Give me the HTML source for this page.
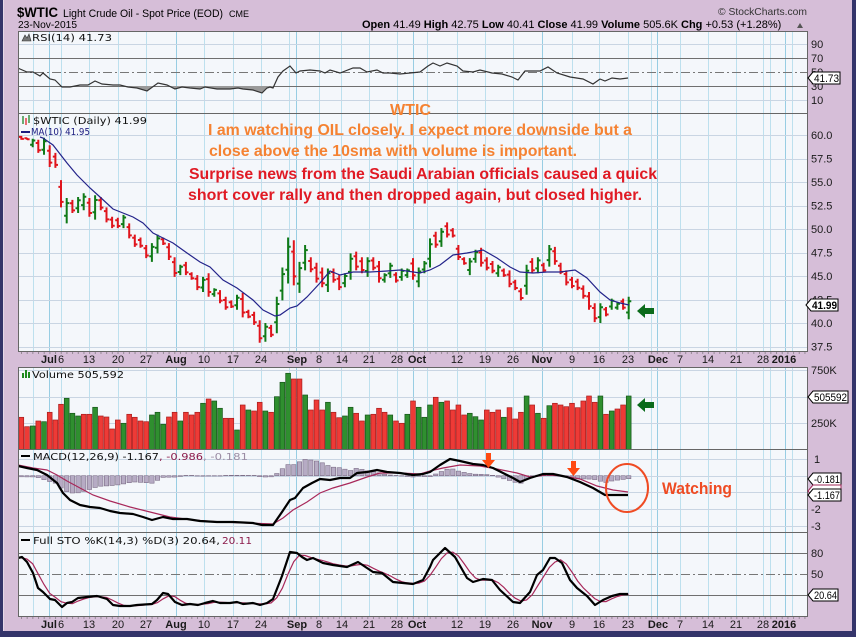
<!DOCTYPE html>
<html><head><meta charset="utf-8"><title>WTIC chart</title>
<style>
html,body{margin:0;padding:0;background:#d6bed8;overflow:hidden}
svg{display:block}
text{font-family:"Liberation Sans",Arial,sans-serif}
.lg{font-family:"DejaVu Sans","Liberation Sans",sans-serif;font-size:10px;fill:#111}
.ax{font-size:11px;fill:#1a1a1a}
.dt{font-size:11px;fill:#1a1a1a;text-anchor:middle}
.dtb{font-size:11px;fill:#1a1a1a;text-anchor:middle;font-weight:bold}
.an{font-weight:bold;font-size:16px}
.bx{font-size:11px;fill:#000}
</style></head><body>
<svg id="c" width="856" height="637" viewBox="0 0 856 637" xmlns="http://www.w3.org/2000/svg">
<defs>
<clipPath id="cR"><rect x="18" y="31" width="789" height="82"/></clipPath>
<clipPath id="cRlow"><rect x="18" y="86" width="789" height="27"/></clipPath>
<clipPath id="cP"><rect x="18" y="113" width="789" height="238"/></clipPath>
<clipPath id="cV"><rect x="18" y="367" width="789" height="82"/></clipPath>
<clipPath id="cM"><rect x="18" y="449" width="789" height="83"/></clipPath>
<clipPath id="cS"><rect x="18" y="532" width="789" height="84"/></clipPath>
</defs>
<rect width="856" height="637" fill="#d6bed8"/>
<rect x="0" y="0" width="3" height="637" fill="#34346a"/>
<rect x="3" y="0" width="1" height="631" fill="#e6d8e8"/>
<rect x="852" y="0" width="4" height="637" fill="#34346a"/>
<rect x="0" y="631" width="856" height="6" fill="#34346a"/>

<rect x="18" y="31" width="789" height="82" fill="#f4f7fb"/>
<rect x="18" y="113" width="789" height="238" fill="#f4f7fb"/>
<rect x="18" y="367" width="789" height="82" fill="#f4f7fb"/>
<rect x="18" y="449" width="789" height="83" fill="#f4f7fb"/>
<rect x="18" y="532" width="789" height="84" fill="#f4f7fb"/>

<g id="grid"></g>

<g stroke="#6f6f6f" stroke-width="1">
<line x1="18" x2="807" y1="58.5" y2="58.5"/>
<line x1="18" x2="807" y1="86.5" y2="86.5"/>
<line x1="18" x2="807" y1="553.5" y2="553.5"/>
<line x1="18" x2="807" y1="595.5" y2="595.5"/>
</g>
<g stroke="#777" stroke-width="1" stroke-dasharray="9,3,2,3">
<line x1="18" x2="807" y1="72.5" y2="72.5"/>
<line x1="18" x2="807" y1="574.5" y2="574.5"/>
</g>

<g id="data"></g>

<g fill="none" stroke="#666" stroke-width="1">
<rect x="18.5" y="31.5" width="789" height="82"/>
<rect x="18.5" y="113.5" width="789" height="238"/>
<rect x="18.5" y="367.5" width="789" height="82"/>
<rect x="18.5" y="449.5" width="789" height="83"/>
<rect x="18.5" y="532.5" width="789" height="84"/>
</g>
<g stroke="#555" stroke-width="1" stroke-dasharray="1,4.677">
<line x1="21" x2="807" y1="353" y2="353"/>
<line x1="21" x2="807" y1="618" y2="618"/>
</g>

<text x="17" y="17" font-size="14" font-weight="bold" textLength="41" lengthAdjust="spacingAndGlyphs" fill="#000">$WTIC</text>
<text x="63" y="17" font-size="11" textLength="160" lengthAdjust="spacingAndGlyphs" fill="#000">Light Crude Oil - Spot Price (EOD)</text>
<text x="229" y="17" font-size="9" textLength="20" lengthAdjust="spacingAndGlyphs" fill="#000">CME</text>
<text x="18" y="28" font-size="10.5" textLength="59" lengthAdjust="spacingAndGlyphs" fill="#000">23-Nov-2015</text>
<text x="718" y="15" font-size="10.5" textLength="89" lengthAdjust="spacingAndGlyphs" fill="#333">© StockCharts.com</text>
<text x="362" y="28" font-size="11" fill="#000"><tspan font-weight="bold">Open</tspan> 41.49 <tspan font-weight="bold">High</tspan> 42.75 <tspan font-weight="bold">Low</tspan> 40.41 <tspan font-weight="bold">Close</tspan> 41.99 <tspan font-weight="bold">Volume</tspan> 505.6K <tspan font-weight="bold">Chg</tspan> +0.53 (+1.28%)</text>
<path d="M797 28L800 23L803 28Z" fill="#555"/>

<g class="ax">
<text x="811" y="48">90</text>
<text x="811" y="62">70</text>
<text x="811" y="76">50</text>
<text x="811" y="90">30</text>
<text x="811" y="104">10</text>
<text x="811" y="139">60.0</text>
<text x="811" y="162.5">57.5</text>
<text x="811" y="186">55.0</text>
<text x="811" y="209.5">52.5</text>
<text x="811" y="233">50.0</text>
<text x="811" y="256.5">47.5</text>
<text x="811" y="280">45.0</text>
<text x="811" y="303.5">42.5</text>
<text x="811" y="327">40.0</text>
<text x="811" y="350.5">37.5</text>
<text x="811" y="374">750K</text>
<text x="811" y="427">250K</text>
<text x="814" y="463">1</text>
<text x="811" y="513">-2</text>
<text x="811" y="530">-3</text>
<text x="811" y="557">80</text>
<text x="811" y="578">50</text>
</g>

<g>
<text class="dtb" x="49" y="363">Jul</text><text class="dt" x="61" y="363">6</text>
<text class="dt" x="89" y="363">13</text><text class="dt" x="118" y="363">20</text><text class="dt" x="146" y="363">27</text>
<text class="dtb" x="176" y="363">Aug</text><text class="dt" x="204" y="363">10</text><text class="dt" x="233" y="363">17</text><text class="dt" x="261" y="363">24</text>
<text class="dtb" x="297" y="363">Sep</text><text class="dt" x="319" y="363">8</text><text class="dt" x="342" y="363">14</text><text class="dt" x="369" y="363">21</text><text class="dt" x="397" y="363">28</text>
<text class="dtb" x="417" y="363">Oct</text><text class="dt" x="457" y="363">12</text><text class="dt" x="485" y="363">19</text><text class="dt" x="513" y="363">26</text>
<text class="dtb" x="542" y="363">Nov</text><text class="dt" x="572" y="363">9</text><text class="dt" x="599" y="363">16</text><text class="dt" x="628" y="363">23</text>
<text class="dtb" x="658" y="363">Dec</text><text class="dt" x="680" y="363">7</text><text class="dt" x="708" y="363">14</text><text class="dt" x="736" y="363">21</text><text class="dt" x="763" y="363">28</text>
<text class="dtb" x="784" y="363">2016</text>
</g>
<g>
<text class="dtb" x="49" y="628">Jul</text><text class="dt" x="61" y="628">6</text>
<text class="dt" x="89" y="628">13</text><text class="dt" x="118" y="628">20</text><text class="dt" x="146" y="628">27</text>
<text class="dtb" x="176" y="628">Aug</text><text class="dt" x="204" y="628">10</text><text class="dt" x="233" y="628">17</text><text class="dt" x="261" y="628">24</text>
<text class="dtb" x="297" y="628">Sep</text><text class="dt" x="319" y="628">8</text><text class="dt" x="342" y="628">14</text><text class="dt" x="369" y="628">21</text><text class="dt" x="397" y="628">28</text>
<text class="dtb" x="417" y="628">Oct</text><text class="dt" x="457" y="628">12</text><text class="dt" x="485" y="628">19</text><text class="dt" x="513" y="628">26</text>
<text class="dtb" x="542" y="628">Nov</text><text class="dt" x="572" y="628">9</text><text class="dt" x="599" y="628">16</text><text class="dt" x="628" y="628">23</text>
<text class="dtb" x="658" y="628">Dec</text><text class="dt" x="680" y="628">7</text><text class="dt" x="708" y="628">14</text><text class="dt" x="736" y="628">21</text><text class="dt" x="763" y="628">28</text>
<text class="dtb" x="784" y="628">2016</text>
</g>

<path d="M22 41L25 35L27 38L29 34L31 41Z" fill="#777" stroke="#333" stroke-width="0.6"/>
<text class="lg" x="32" y="41" textLength="80" lengthAdjust="spacingAndGlyphs">RSI(14) 41.73</text>
<g stroke-width="1.2"><line x1="23" y1="116" x2="23" y2="124" stroke="#0f7a17"/><line x1="26" y1="118" x2="26" y2="125" stroke="#e0141c"/><line x1="29" y1="115" x2="29" y2="123" stroke="#0f7a17"/></g>
<text class="lg" x="33" y="124" textLength="114" lengthAdjust="spacingAndGlyphs">$WTIC (Daily) 41.99</text>
<rect x="21" y="131" width="9" height="2" fill="#1c1c80"/>
<text class="lg" x="31" y="135" textLength="59" lengthAdjust="spacingAndGlyphs" style="fill:#1c1c80">MA(10) 41.95</text>
<g fill="#1e8a1e"><rect x="22" y="373" width="2" height="5"/><rect x="25" y="370" width="2" height="8"/><rect x="28" y="372" width="2" height="6"/></g>
<text class="lg" x="32" y="378" textLength="92" lengthAdjust="spacingAndGlyphs">Volume 505,592</text>
<rect x="21" y="455" width="9" height="2" fill="#000"/>
<text class="lg" x="33" y="460" textLength="126" lengthAdjust="spacingAndGlyphs">MACD(12,26,9) -1.167</text>
<text class="lg" x="159" y="460" textLength="44" lengthAdjust="spacingAndGlyphs" style="fill:#8b1a4a">, -0.986</text>
<text class="lg" x="203" y="460" textLength="45" lengthAdjust="spacingAndGlyphs" style="fill:#9a8ca4">, -0.181</text>
<rect x="21" y="539" width="9" height="2" fill="#000"/>
<text class="lg" x="33" y="544" textLength="187" lengthAdjust="spacingAndGlyphs">Full STO %K(14,3) %D(3) 20.64,</text>
<text class="lg" x="222" y="544" textLength="30" lengthAdjust="spacingAndGlyphs" style="fill:#8b1a4a">20.11</text>

<text class="an" x="390" y="115" fill="#f58232" textLength="41" lengthAdjust="spacingAndGlyphs">WTIC</text>
<text class="an" x="208" y="135" fill="#f58232" textLength="424" lengthAdjust="spacingAndGlyphs">I am watching OIL closely. I expect more downside but a</text>
<text class="an" x="209" y="156" fill="#f58232" textLength="368" lengthAdjust="spacingAndGlyphs">close above the 10sma with volume is important.</text>
<text class="an" x="189" y="179" fill="#e01a24" textLength="468" lengthAdjust="spacingAndGlyphs">Surprise news from the Saudi Arabian officials caused a quick</text>
<text class="an" x="188" y="200" fill="#e01a24" textLength="454" lengthAdjust="spacingAndGlyphs">short cover rally and then dropped again, but closed higher.</text>

<path d="M637 311L645 304V308H654V314H645V318Z" fill="#0b6b1b"/>
<path d="M637 405L645 398V402H654V408H645V412Z" fill="#0b6b1b"/>
<path d="M486 453H491V460H495L488.5 468L482 460H486Z" fill="#ff4a12"/>
<path d="M571 461H576V468H580L573.5 476L567 468H571Z" fill="#ff4a12"/>
<ellipse cx="627" cy="488" rx="21" ry="24" fill="none" stroke="#ef4b23" stroke-width="2"/>
<text x="662" y="494" font-size="17" font-weight="bold" fill="#ef4b23" textLength="70" lengthAdjust="spacingAndGlyphs">Watching</text>

<g stroke="#000" stroke-width="1" fill="#fff">
<path d="M808 78L813 72H840V84H813Z"/>
<path d="M806 305L811 299H838V311H811Z"/>
<path d="M808 397L813 391H848V403H813Z"/>
<path d="M808 479L813 473H841V485H813Z"/>
<path d="M808 491L813 485H841V497H813Z" stroke="#a0285a"/>
<path d="M808 495L813 489H841V501H813Z"/>
<path d="M808 595L813 589H838V601H813Z"/>
</g>
<text class="bx" x="814" y="82" textLength="25" lengthAdjust="spacingAndGlyphs">41.73</text>
<text class="bx" x="812" y="309" font-weight="bold" textLength="25" lengthAdjust="spacingAndGlyphs">41.99</text>
<text class="bx" x="814" y="401" textLength="33" lengthAdjust="spacingAndGlyphs">505592</text>
<text class="bx" x="814" y="483" textLength="26" lengthAdjust="spacingAndGlyphs">-0.181</text>
<text class="bx" x="814" y="499" textLength="26" lengthAdjust="spacingAndGlyphs">-1.167</text>
<text class="bx" x="814" y="599" textLength="23" lengthAdjust="spacingAndGlyphs">20.64</text>
</svg>
<script>
(function(){
var NS='http://www.w3.org/2000/svg';
function el(t,a,p){var e=document.createElementNS(NS,t);for(var k in a)e.setAttribute(k,a[k]);p.appendChild(e);return e;}
var G=document.getElementById('grid'),D=document.getElementById('data');
var panels=[[31,113],[113,351],[367,449],[449,532],[532,616]];
var vx=[33,49,61,89,118,146,176,204,233,261,289,296,319,341,369,397,413,427,457,485,513,542,572,599,628,651,657,680,708,736,763,770,785,792];
var mx=[49,176,296,413,542,657,785];
panels.forEach(function(p){vx.forEach(function(x){el('line',{x1:x+.5,x2:x+.5,y1:p[0],y2:p[1],stroke:mx.indexOf(x)>=0?'#98cde3':'#bde0ee','stroke-width':1},G);});});
var hy=[44,100];
for(var v=37.5;v<=60;v+=2.5)hy.push(135+(60-v)*9.4);
hy=hy.concat([370,396.5,423,459,475.7,492.4,509,525.8]);
hy.forEach(function(y){el('line',{x1:18,x2:807,y1:Math.round(y)+.5,y2:Math.round(y)+.5,stroke:'#c9d5e3','stroke-width':1},G);});

function pts(a){var s='';for(var i=0;i<a.length;i+=2)s+=a[i]+','+a[i+1]+' ';return s;}
function ip(a,x){if(x<=a[0])return a[1];for(var i=2;i<a.length;i+=2){if(x<=a[i]){var x0=a[i-2],y0=a[i-1],x1=a[i],y1=a[i+1];return y0+(y1-y0)*(x-x0)/(x1-x0);}}return a[a.length-1];}
function bx(j){return 21.3+5.677*j;}

var RSI=[18,68,20,69,27,72,33,72,40,76,43,73,50,79,55,80,62,87,70,87,80,85,88,85,95,81,102,84,113,85,120,85,128,87,137,88,147,91,158,83,167,85,175,89,182,87,190,88,200,89,205,87,217,89,230,89,238,88,243,89,253,90,262,93,267,88,270,87,273,88,278,77,283,71,290,66,296,73,300,71,310,70,320,71,325,73,330,70,340,73,353,68,360,68,367,72,377,70,383,73,390,73,400,74,410,73,420,72,428,66,433,63,440,66,447,63,457,66,463,71,473,72,480,70,492,73,502,74,512,77,518,80,525,71,540,71,548,67,557,73,570,77,583,79,593,84,600,79,605,81,612,78,620,79,628,78];
var gR=el('g',{'clip-path':'url(#cR)'},D);
el('polygon',{points:'18,86 '+pts(RSI)+'628,86',fill:'#9a9a9a','clip-path':'url(#cRlow)'},gR);
el('polyline',{points:pts(RSI),fill:'none',stroke:'#333','stroke-width':1.2},gR);

var P=[['R',59.9,59.5],['R',59.7,59.5],['G',59.6,58.7],['R',59.5,58.1],['G',59.7,57.9],['R',58.9,56.6],['R',58.1,56.5],['R',55.2,52.3],['G',53.3,50.6],['R',53.1,51.7],['G',53.4,51.7],['G',53.8,52.0],['R',53.3,51.3],['G',53.6,51.0],['R',53.4,52.0],['R',52.3,50.7],['R',51.3,50.1],['R',51.2,50.1],['G',51.5,50.1],['R',50.6,49.0],['R',49.4,48.1],['R',49.1,48.0],['R',48.3,46.9],['G',48.5,46.5],['G',49.4,47.4],['R',49.1,48.3],['R',48.5,46.7],['R',47.0,44.9],['G',46.2,45.1],['R',46.5,45.1],['R',45.4,44.6],['R',45.1,43.5],['G',44.9,43.3],['R',45.3,42.8],['G',43.7,42.8],['R',43.5,42.1],['R',42.8,41.4],['R',42.4,41.6],['G',43.0,41.4],['R',43.2,40.6],['R',41.4,40.5],['R',41.2,39.8],['R',40.3,37.9],['G',40.0,38.0],['R',39.8,38.5],['G',42.8,38.9],['G',45.9,42.4],['G',49.1,44.2],['R',48.8,44.0],['G',46.5,43.2],['G',48.3,45.6],['R',47.0,45.4],['R',46.4,44.3],['R',45.9,43.8],['G',45.8,43.3],['R',45.8,44.3],['R',45.1,43.5],['G',45.3,43.8],['G',47.4,44.6],['R',47.6,45.6],['R',47.0,45.3],['G',47.0,44.9],['R',47.0,45.6],['R',46.6,44.3],['G',45.3,44.3],['G',46.4,44.8],['R',45.4,44.3],['G',45.8,44.5],['G',45.8,44.8],['R',46.9,44.6],['G',45.9,43.8],['G',46.6,45.3],['G',49.0,45.9],['R',49.7,48.0],['G',50.1,48.1],['R',50.7,49.1],['R',50.1,49.1],['R',48.3,46.7],['R',47.0,46.2],['G',46.9,45.1],['G',47.8,46.4],['R',48.0,46.0],['R',47.0,45.6],['R',46.6,45.3],['G',46.2,44.9],['R',45.8,44.9],['R',45.6,43.8],['R',44.6,43.5],['R',43.7,42.4],['G',46.2,43.0],['R',46.9,45.3],['G',47.0,45.3],['R',46.4,45.4],['G',48.3,46.0],['R',48.1,46.2],['R',46.4,45.2],['R',45.6,44.0],['R',44.9,43.7],['R',44.7,43.5],['R',44.0,42.6],['R',43.3,41.4],['R',42.1,40.1],['G',42.1,40.0],['R',41.7,40.7],['G',42.6,41.4],['G',42.2,41.4],['R',42.6,41.4],['G',42.8,40.4]];
function py(p){return 135+(60-p)*9.4;}
var gP=el('g',{'clip-path':'url(#cP)'},D);
var dG='',dR='';
P.forEach(function(b,j){var x=bx(j),h=b[1],l=b[2],g=b[0]=='G';
 var o=g?l+0.3*(h-l):l+0.75*(h-l),c=g?l+0.8*(h-l):l+0.2*(h-l);
 var s='M'+x.toFixed(1)+' '+py(h).toFixed(1)+'V'+py(l).toFixed(1)+'M'+(x-2.6).toFixed(1)+' '+py(o).toFixed(1)+'H'+x.toFixed(1)+'M'+x.toFixed(1)+' '+py(c).toFixed(1)+'H'+(x+2.6).toFixed(1);
 if(g)dG+=s;else dR+=s;});
el('path',{d:dR,stroke:'#e0141c','stroke-width':2,fill:'none'},gP);
el('path',{d:dG,stroke:'#0f7a17','stroke-width':2,fill:'none'},gP);
var MA=[40,137,43,138,53,145,67,163,77,175,90,188,100,197,113,209,123,213,133,217,143,223,153,233,163,238,173,243,187,253,200,262,210,267,223,280,237,288,253,300,263,310,275,316,280,315,290,308,297,306,307,297,320,283,330,271,340,275,353,272,370,272,387,271,400,270,420,273,430,270,440,265,453,255,467,253,483,250,497,258,510,267,520,272,533,273,547,272,560,272,575,270,587,278,600,292,610,300,620,303,629,305];
el('polyline',{points:pts(MA),fill:'none',stroke:'#23238a','stroke-width':1.2},gP);

var V=[['R',187],['R',215],['G',213],['R',198],['G',200],['R',172],['R',195],['R',148],['G',130],['G',175],['G',183],['R',178],['R',178],['G',157],['R',183],['R',186],['R',222],['R',195],['G',205],['R',178],['R',187],['R',198],['R',200],['G',180],['G',172],['G',208],['R',186],['R',172],['G',198],['R',172],['R',180],['R',172],['G',145],['R',132],['G',138],['G',160],['R',190],['R',190],['G',225],['R',150],['G',165],['R',168],['R',142],['G',168],['R',172],['G',125],['G',82],['G',55],['R',72],['R',72],['G',120],['R',165],['R',135],['R',165],['G',142],['R',172],['R',188],['G',183],['G',157],['R',175],['R',198],['G',180],['R',178],['R',160],['R',172],['G',180],['R',198],['R',205],['G',178],['R',138],['G',157],['G',187],
['G',150],['R',127],['G',142],['R',138],['R',165],['R',150],['R',180],['G',175],['G',185],['G',195],['R',165],['R',172],['R',165],['G',187],['R',158],['R',192],['R',172],['G',123],['R',150],['G',175],['R',190],['G',152],['R',145],['R',150],['R',155],['R',145],['R',158],['R',138],['R',123],['R',142],['G',123],['R',178],['G',168],['R',162],['R',150],['G',123]];
var gV=el('g',{'clip-path':'url(#cV)'},D);
V.forEach(function(b,j){var x=bx(j),t=355+b[1]/3,g=b[0]=='G';
 el('rect',{x:(x-2.4).toFixed(1),y:t.toFixed(1),width:4.8,height:(449.5-t).toFixed(1),fill:g?'#2f8f2f':'#ee3a36',stroke:g?'#17561a':'#a81d1d','stroke-width':0.7},gV);});

var MC=[18,466,27,468,37,470,47,475,57,483,63,493,70,500,80,505,90,507,100,508,110,511,120,513,133,514,143,517,152,520,163,517,173,519,187,519,200,521,217,522,233,522,253,523,262,525,273,525,282,512,290,500,295,498,303,488,312,483,320,479,330,480,340,478,350,478,357,473,367,472,377,470,387,472,400,473,413,475,423,474,430,472,440,465,450,459,460,461,473,464,483,465,493,468,503,473,513,478,520,482,530,478,543,474,553,474,567,477,580,482,593,488,605,495,628,495];
var SG=[18,465,33,468,47,470,57,475,67,481,80,488,93,495,110,501,130,507,150,512,170,517,193,520,220,522,247,523,273,524,283,518,293,510,307,502,320,493,333,488,350,483,367,477,380,473,400,473,420,474,430,471,443,468,460,465,480,466,497,469,517,473,530,477,547,475,563,476,580,479,597,486,613,490,628,492];
var gM=el('g',{'clip-path':'url(#cM)'},D);
var z=475.7;
for(var j=0;j<108;j++){var x=bx(j),h=ip(SG,x)-ip(MC,x);if(Math.abs(h)<0.3)h=h<0?-0.3:0.3;
 el('rect',{x:(x-2.2).toFixed(1),y:(h>0?z-h:z).toFixed(1),width:4.4,height:Math.abs(h).toFixed(1),fill:'#b6abc4',stroke:'#7d6f88','stroke-width':0.6},gM);}
el('polyline',{points:pts(SG),fill:'none',stroke:'#a8285a','stroke-width':1.2},gM);
el('polyline',{points:pts(MC),fill:'none',stroke:'#000','stroke-width':2.2,'stroke-linejoin':'round'},gM);

var K=[18,558,22,557,27,562,33,573,38,588,43,592,50,599,55,600,62,607,67,603,72,602,78,598,87,597,97,596,107,599,113,605,120,606,130,606,137,605,152,604,157,600,163,593,168,594,175,602,182,605,190,604,198,605,205,603,213,601,220,603,230,603,237,602,243,604,253,603,260,605,267,603,273,599,282,576,290,552,297,553,302,557,307,560,313,558,323,563,333,565,347,567,358,562,367,568,373,572,382,573,393,582,403,583,413,584,423,580,430,567,433,560,445,548,455,557,467,578,473,582,483,579,492,580,500,590,513,602,520,603,530,592,537,575,543,570,550,558,555,558,562,563,570,580,577,588,587,596,595,605,603,600,612,596,620,594,628,594];
var Dp=[];
for(var j=0;j<108;j++){var x=bx(j);Dp.push(x.toFixed(1),((ip(K,x)+ip(K,x-5.677)+ip(K,x-11.35))/3).toFixed(1));}
var gS=el('g',{'clip-path':'url(#cS)'},D);
el('polyline',{points:pts(Dp),fill:'none',stroke:'#a8285a','stroke-width':1.2},gS);
el('polyline',{points:pts(K),fill:'none',stroke:'#000','stroke-width':2.2,'stroke-linejoin':'round'},gS);
})();
</script>
</body></html>
